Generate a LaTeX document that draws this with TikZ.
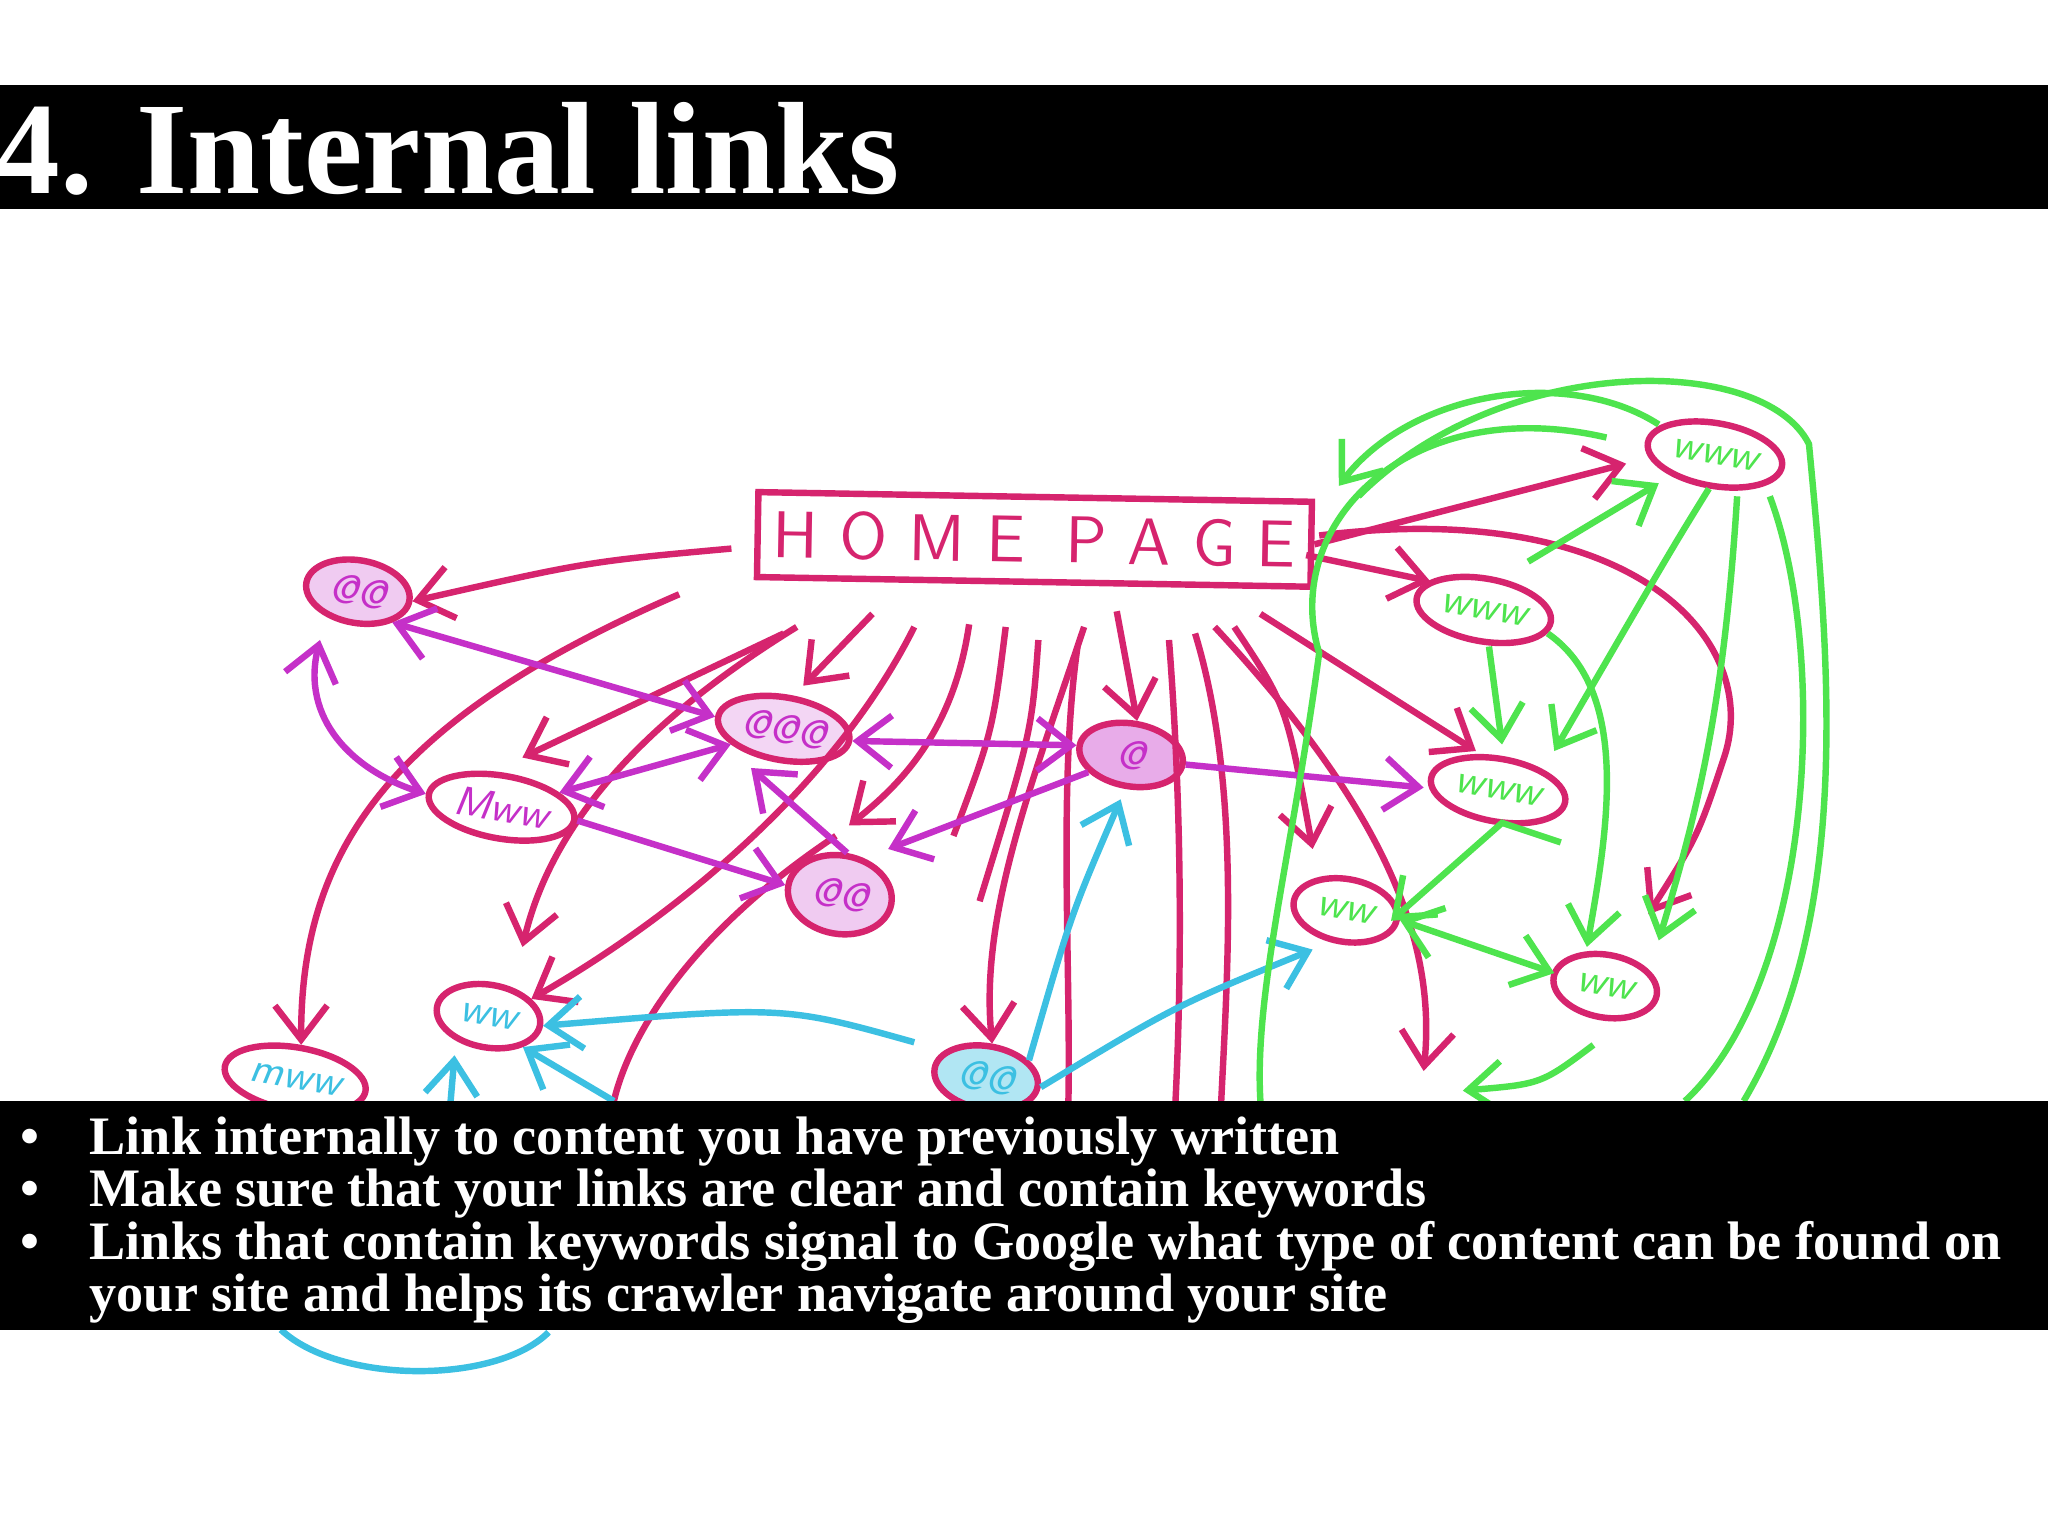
\documentclass[tikz,border=0pt]{standalone}
\usepackage{fontspec}
\setmainfont{Liberation Serif}
\usetikzlibrary{shapes.geometric,arrows.meta}
\definecolor{rd}{HTML}{D6246E}
\definecolor{mg}{HTML}{C530C8}
\definecolor{gr}{HTML}{4EE44E}
\definecolor{cy}{HTML}{3CC0E2}
\tikzset{
 x=0.01cm,y=-0.01cm,
 ar/.style={line width=1.4pt,-{Straight Barb[length=2.6mm,width=4mm]}},
 da/.style={line width=1.4pt,{Straight Barb[length=2.6mm,width=4mm]}-{Straight Barb[length=2.6mm,width=4mm]}},
 ln/.style={line width=1.4pt},
 pg/.style={ellipse,draw,line width=1.4pt,minimum width=0.8cm,minimum height=0.48cm,inner sep=1pt,font=\sffamily\itshape\small,rotate=-10},
 bl/.style={anchor=base west,text=white,font=\bfseries\fontsize{11.8}{13}\selectfont,inner sep=0},
}
\begin{document}
\begin{tikzpicture}
\useasboundingbox (0,0) rectangle (1568,1176);
\fill[white] (0,0) rectangle (1568,1176);
% title
\fill[black] (0,65) rectangle (1568,160);
\node[anchor=west,text=white,font=\bfseries\fontsize{28.6}{32}\selectfont,inner sep=0] (title) at (-5,114) {4. Internal links};
% home
\node[draw=rd,line width=1.4pt,minimum width=4.15cm,minimum height=0.65cm,text=rd,font=\sffamily\Large,rotate=-1] (home) at (792,413) {H O M E\; P A G E};
% nodes
\node[pg,draw=rd,text=mg,fill=mg!25] (n1) at (274,453) {@@};
\node[pg,draw=rd,text=mg] (n2) at (384,618) {Mww};
\node[pg,draw=rd,text=mg,fill=mg!20] (n3) at (600,558) {@@@};
\node[pg,draw=rd,text=mg,fill=mg!40] (n4) at (866,578) {@};
\node[pg,draw=rd,text=mg,fill=mg!25,minimum height=0.6cm] (n5) at (643,685) {@@};
\node[pg,draw=rd,text=cy] (n6) at (374,778) {ww};
\node[pg,draw=rd,text=cy] (n7) at (226,826) {mww};
\node[pg,draw=rd,text=cy,fill=cy!40] (n8) at (755,825) {@@};
\node[pg,draw=rd,text=gr] (g1) at (1313,348) {www};
\node[pg,draw=rd,text=gr] (g2) at (1136,467) {www};
\node[pg,draw=rd,text=gr] (g3) at (1147,605) {www};
\node[pg,draw=rd,text=gr] (g4) at (1030,697) {ww};
\node[pg,draw=rd,text=gr] (g5) at (1229,755) {ww};
% red arrows
\coordinate (h1) at (560,420);
\draw[ar,rd] (h1) .. controls (450,430) .. (n1.east);
\draw[ar,rd] (520,455) .. controls (300,550) and (230,650) .. (n7.north);
\draw[ar,rd] (600,485) -- (400,580);
\draw[ar,rd] (668,470) -- (615,525);
\draw[ar,rd] (742,478) .. controls (730,560) and (690,600) .. (650,632);
\draw[ar,rd] (610,480) .. controls (480,560) and (420,640) .. (400,725);
\draw[ar,rd] (700,480) .. controls (640,600) and (520,700) .. (n6.north east);
\draw[ln,rd] (640,640) .. controls (520,720) and (480,800) .. (470,843);
\draw[ar,rd] (855,468) -- (n4.north);
\draw[ar,rd] (830,480) .. controls (790,600) and (750,700) .. (n8.north);
\draw[ln,rd] (770,480) .. controls (760,560) .. (730,640);
\draw[ln,rd] (795,490) .. controls (790,560) .. (750,690);
\draw[ln,rd] (825,495) .. controls (810,600) and (820,740) .. (818,843);
\draw[ln,rd] (895,490) .. controls (905,620) and (905,740) .. (900,843);
\draw[ln,rd] (915,485) .. controls (950,600) and (940,740) .. (935,843);
\draw[ar,rd] (945,480) .. controls (985,540) .. (1005,650);
\draw[ar,rd] (965,470) -- (1130,575);
\draw[ar,rd] (930,480) .. controls (1060,620) and (1100,720) .. (1090,820);
\draw[ar,rd] (home.east) -- (1245,355);
\draw[ar,rd] (1000,425) -- (1095,445);
\draw[ar,rd] (1010,410) .. controls (1250,380) and (1350,490) .. (1320,580) .. controls (1300,640) .. (1262,700);
% magenta
\draw[da,mg] (n1.south east) -- (n3.west);
\draw[da,mg] (245,490) .. controls (230,550) and (270,590) .. (n2.west);
\draw[da,mg] (n2.north east) -- (n3.south west);
\draw[da,mg] (n3.east) -- (n4.west);
\draw[ar,mg] (n2.east) -- (n5.west);
\draw[ar,mg] (n5.north) -- (575,588);
\draw[ar,mg] (n4.south west) -- (680,650);
\draw[ar,mg] (n4.east) -- (1090,603);
% cyan
\draw[ar,cy] (n8.north east) .. controls (820,700) .. (858,612);
\draw[ar,cy] (n8.east) .. controls (900,770) .. (1005,727);
\draw[ar,cy] (700,798) .. controls (600,770) .. (n6.east);
\draw[ar,cy] (470,843) -- (n6.south east);
\draw[ar,cy] (345,843) -- (348,808);
\draw[ln,cy] (215,1018) .. controls (260,1060) and (380,1060) .. (420,1020);
% green
\draw[ar,gr] (g1.south) .. controls (1280,420) .. (1190,575);
\draw[ar,gr] (1170,430) -- (1270,370);
\draw[ar,gr] (1140,495) -- (1150,570);
\draw[ar,gr] (1185,485) .. controls (1250,530) and (1230,640) .. (1215,725);
\draw[da,gr] (g4.east) -- (1190,745);
\draw[ar,gr] (1195,645) -- (1150,630) -- (1065,705);
\draw[ar,gr] (1330,380) .. controls (1320,540) and (1300,620) .. (1270,720);
\draw[ln,gr] (1355,380) .. controls (1400,500) and (1390,750) .. (1290,843);
\draw[ar,gr] (1270,325) .. controls (1200,280) and (1080,300) .. (1025,372);
\draw[ln,gr] (1230,335) .. controls (1080,300) and (980,400) .. (1010,500) .. controls (990,650) and (960,760) .. (965,843);
\draw[ln,gr] (1040,380) .. controls (1150,270) and (1350,270) .. (1385,340) .. controls (1400,500) and (1420,700) .. (1335,843);
\draw[ar,gr] (1220,800) .. controls (1180,830) .. (1120,835);
% bottom bar
\fill[black] (0,843) rectangle (1568,1018);
\node[bl] (b1) at (15,884) {•};
\node[bl] (t1) at (68,884) {Link internally to content you have previously written};
\node[bl] (b2) at (15,924) {•};
\node[bl] (t2) at (68,924) {Make sure that your links are clear and contain keywords};
\node[bl] (b3) at (15,964) {•};
\node[bl] (t3) at (68,964) {Links that contain keywords signal to Google what type of content can be found on};
\node[bl] (t4) at (68,1004) {your site and helps its crawler navigate around your site};
\end{tikzpicture}
\end{document}
